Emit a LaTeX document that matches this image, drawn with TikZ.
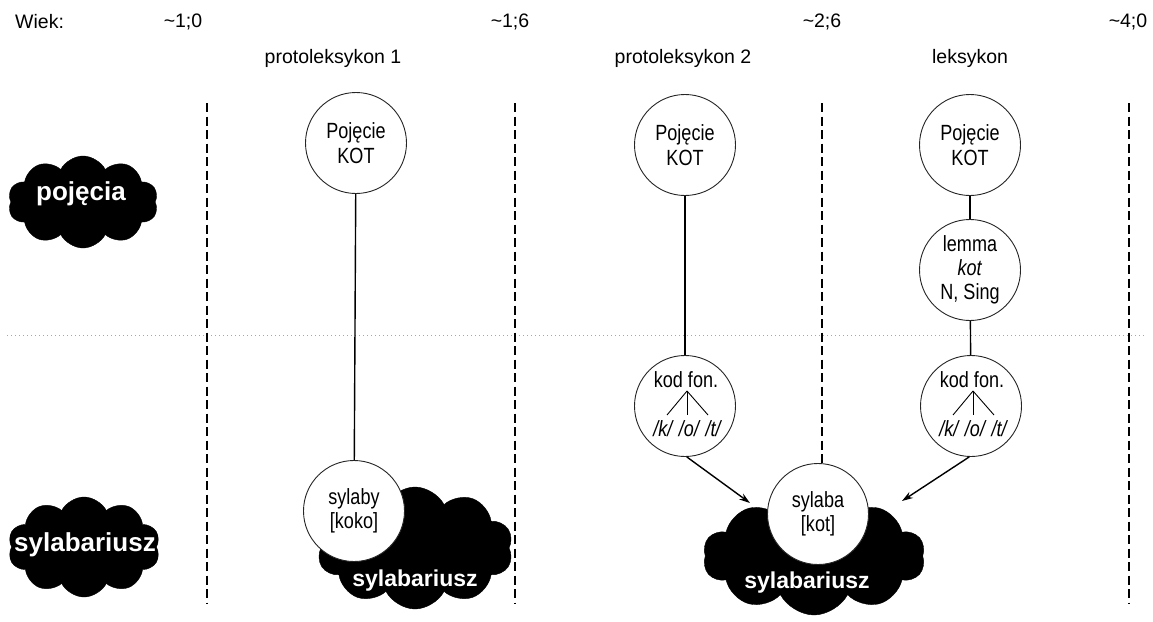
\documentclass[tikz,border=0pt]{standalone}
\usepackage{fontspec}
\setmainfont{Liberation Sans}
\newfontfamily\narrow[FakeStretch=0.82]{Liberation Sans}
\usetikzlibrary{shapes.symbols,arrows.meta,calc}

\begin{document}
\begin{tikzpicture}[x=1pt,y=-1pt,
  label/.style={font=\fontsize{19.5}{23}\selectfont, inner sep=0pt},
  inner/.style={font=\narrow\fontsize{22}{24}\selectfont, inner sep=0pt},
  concept/.style={circle, draw=black!85, line width=0.9pt, fill=white,
    minimum size=101pt, inner sep=0pt, align=center,
    font=\narrow\fontsize{22}{24.5}\selectfont},
  blob/.style={cloud, cloud puffs=10, cloud puff arc=125, fill=black,
    draw=black, inner sep=0pt},
  blobtext/.style={text=white, inner sep=0pt, font=\bfseries\fontsize{23}{26}\selectfont},
  sidetext/.style={text=white, inner sep=0pt, font=\bfseries\fontsize{26}{30}\selectfont},
  era/.style={line width=2.8pt, dash pattern=on 9pt off 4.5pt},
  level/.style={gray!70, line width=0.8pt, dash pattern=on 1pt off 3pt},
  link/.style={line width=1.4pt},
  twig/.style={line width=0.9pt},
  arr/.style={line width=1.4pt, -{Stealth[length=11pt,width=7pt]}},
]
\useasboundingbox (0,0) rectangle (1153,621);

% level divider
\coordinate (lvL) at (7,335);
\coordinate (lvR) at (1147,335);
\draw[level] (lvL) -- (lvR);

% period boundaries
\foreach \x [count=\i] in {207,515,822,1129}{
  \coordinate (eT\i) at (\x,103);
  \coordinate (eB\i) at (\x,603);
  \draw[era] (eT\i) -- (eB\i);
}

% black clouds
\node[blob, minimum width=150pt, minimum height=92pt] (cloudP) at (83,202) {};
\node[blob, minimum width=152pt, minimum height=100pt] (cloudS) at (84,547) {};
\node[blob, minimum width=196pt, minimum height=122pt] (cloudA) at (415,548) {};
\node[blob, minimum width=222pt, minimum height=118pt] (cloudB) at (814,556) {};

\node[sidetext] (tP) at (81,194) {pojęcia};
\node[sidetext] (tS) at (85,545) {sylabariusz};
\node[blobtext] (tA) at (415,581) {sylabariusz};
\node[blobtext] (tB) at (807,583) {sylabariusz};

% age axis
\node[label, anchor=west] (wiek) at (15,22) {Wiek:};
\node[label] (age1) at (183,22) {\textasciitilde1;0};
\node[label] (age2) at (510,22) {\textasciitilde1;6};
\node[label] (age3) at (822,22) {\textasciitilde2;6};
\node[label] (age4) at (1128,22) {\textasciitilde4;0};

\node[label] (st1) at (333,58) {protoleksykon 1};
\node[label] (st2) at (683,58) {protoleksykon 2};
\node[label] (st3) at (970,58) {leksykon};

% concept nodes
\node[concept] (kot1) at (356,143) {Pojęcie\\KOT};
\node[concept] (kot2) at (685,145) {Pojęcie\\KOT};
\node[concept] (kot3) at (970,145) {Pojęcie\\KOT};
\node[concept, font=\narrow\fontsize{22}{24}\selectfont] (lemma) at (970,270) {lemma\\\textit{kot}\\N, Sing};
\node[concept] (kf2) at (685,406) {};
\node[concept] (kf3) at (971,406) {};
\node[concept] (syl1) at (354,511) {sylaby\\{[}koko{]}};
\node[concept] (syl2) at (818,514) {sylaba\\{[}kot{]}};

% phonological code contents
\foreach \k in {kf2,kf3}{
  \node[inner] (\k-head) at ($(\k)+(1,-26)$) {kod fon.};
  \node[inner, font=\narrow\itshape\fontsize{22}{24}\selectfont] (\k-ph) at ($(\k)+(2,23)$)
    {/k/\hspace{1.5pt} /o/\hspace{1.5pt} /t/};
  \coordinate (\k-top) at ($(\k)+(2,-15)$);
  \draw[twig] (\k-top) -- ($(\k)+(-18,9)$);
  \draw[twig] (\k-top) -- ($(\k)+(2,9)$);
  \draw[twig] (\k-top) -- ($(\k)+(23,9)$);
}

% links
\draw[link] (kot1) -- (syl1);
\draw[link] (kot2) -- (kf2);
\draw[link] (kot3) -- (lemma);
\draw[link] (lemma) -- (kf3);

\coordinate (in2) at (750,503);
\coordinate (in3) at (902,501);
\draw[arr] (kf2.-88) -- (in2);
\draw[arr] (kf3.-92) -- (in3);
\end{tikzpicture}
\end{document}
